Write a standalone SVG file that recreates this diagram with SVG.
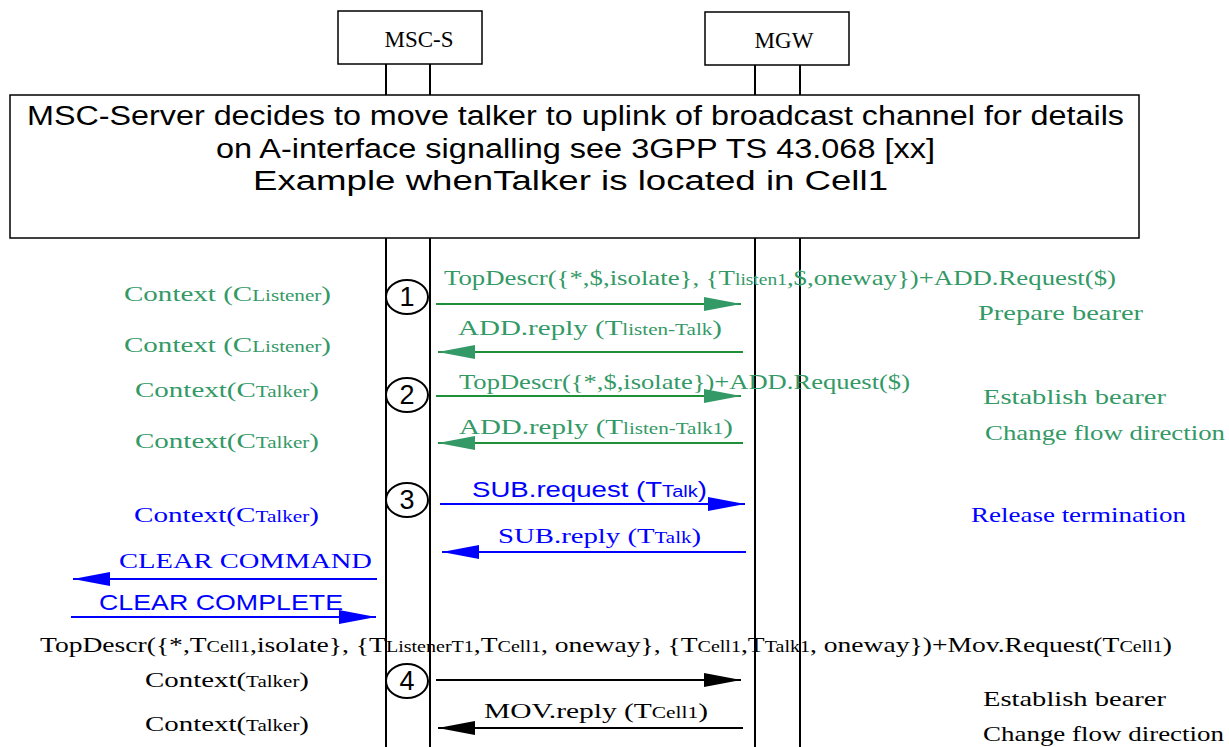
<svg xmlns="http://www.w3.org/2000/svg" width="1229" height="747" viewBox="0 0 1229 747">
<style>
.box{fill:#fff;stroke:#000;stroke-width:1.5}
.life{stroke:#000;stroke-width:2}
.serif{font-family:"Liberation Serif","Times New Roman",serif}
.sans{font-family:"Liberation Sans",Arial,sans-serif}
.g{fill:#339966}
.b{fill:#0000ff}
.k{fill:#000}
.m{font-size:22px}
.s{font-size:16px}
.gl{stroke:#1f8f3a;stroke-width:2;fill:none}
.bl{stroke:#0000ff;stroke-width:2;fill:none}
.kl{stroke:#000;stroke-width:2;fill:none}
.num{font-family:"Liberation Sans",Arial,sans-serif;font-size:27px;text-anchor:middle}
</style>
<defs>
<marker id="ag" markerUnits="userSpaceOnUse" markerWidth="40" markerHeight="16" refX="37" refY="7" orient="auto"><path d="M0,0 L37,7 L0,14 Z" fill="#339966"/></marker>
<marker id="ab" markerUnits="userSpaceOnUse" markerWidth="40" markerHeight="16" refX="37" refY="7" orient="auto"><path d="M0,0 L37,7 L0,14 Z" fill="#0000ff"/></marker>
<marker id="ak" markerUnits="userSpaceOnUse" markerWidth="40" markerHeight="16" refX="37" refY="7" orient="auto"><path d="M0,0 L37,7 L0,14 Z" fill="#000"/></marker>
</defs>
<rect width="1229" height="747" fill="#fff"/>
<g id="lifelines">
<line class="life" x1="386" y1="64" x2="386" y2="747"/>
<line class="life" x1="430" y1="64" x2="430" y2="747"/>
<line class="life" x1="755" y1="65" x2="755" y2="747"/>
<line class="life" x1="800" y1="65" x2="800" y2="747"/>
</g>
<g id="msc-s">
<rect class="box" x="338" y="11" width="144" height="53"/>
<text class="serif k" x="419" y="47" font-size="23" text-anchor="middle">MSC-S</text>
</g>
<g id="mgw">
<rect class="box" x="705" y="12" width="144" height="53"/>
<text class="serif k" x="784" y="48" font-size="23" text-anchor="middle">MGW</text>
</g>
<g id="note">
<rect class="box" x="10" y="95" width="1129" height="143"/>
<text class="sans k" font-size="27" x="27" y="125" textLength="1097" lengthAdjust="spacingAndGlyphs">MSC-Server decides to move talker to uplink of broadcast channel for details</text>
<text class="sans k" font-size="27" x="216" y="158" textLength="719" lengthAdjust="spacingAndGlyphs">on A-interface signalling see 3GPP TS 43.068 [xx]</text>
<text class="sans k" font-size="27" x="253" y="190" textLength="635" lengthAdjust="spacingAndGlyphs">Example whenTalker is located in Cell1</text>
</g>
<g id="step1"><ellipse cx="407" cy="297" rx="21" ry="17" fill="#fff" stroke="#000" stroke-width="2"/><text class="num" x="407" y="306">1</text></g>
<g id="step2"><ellipse cx="407" cy="395" rx="21" ry="17" fill="#fff" stroke="#000" stroke-width="2"/><text class="num" x="407" y="404">2</text></g>
<g id="step3"><ellipse cx="407" cy="500" rx="21" ry="17" fill="#fff" stroke="#000" stroke-width="2"/><text class="num" x="407" y="509">3</text></g>
<g id="step4"><ellipse cx="407" cy="681" rx="21" ry="17" fill="#fff" stroke="#000" stroke-width="2"/><text class="num" x="407" y="690">4</text></g>
<g id="connectors">
<line class="gl" x1="436" y1="304" x2="741" y2="304" marker-end="url(#ag)"/>
<line class="gl" x1="743" y1="352" x2="438" y2="352" marker-end="url(#ag)"/>
<line class="gl" x1="436" y1="396" x2="741" y2="396" marker-end="url(#ag)"/>
<line class="gl" x1="743" y1="443" x2="438" y2="443" marker-end="url(#ag)"/>
<line class="bl" x1="440" y1="504" x2="745" y2="504" marker-end="url(#ab)"/>
<line class="bl" x1="746" y1="552" x2="442" y2="552" marker-end="url(#ab)"/>
<line class="bl" x1="377" y1="579" x2="73" y2="579" marker-end="url(#ab)"/>
<line class="bl" x1="71" y1="617" x2="376" y2="617" marker-end="url(#ab)"/>
<line class="kl" x1="436" y1="680" x2="741" y2="680" marker-end="url(#ak)"/>
<line class="kl" x1="743" y1="728" x2="438" y2="728" marker-end="url(#ak)"/>
</g>
<g id="labels">
<text class="serif g m" x="124" y="301" textLength="207" lengthAdjust="spacingAndGlyphs">Context (C<tspan class="s">Listener</tspan>)</text>
<text class="serif g m" x="124" y="352" textLength="207" lengthAdjust="spacingAndGlyphs">Context (C<tspan class="s">Listener</tspan>)</text>
<text class="serif g m" x="135" y="397" textLength="184" lengthAdjust="spacingAndGlyphs">Context(C<tspan class="s">Talker</tspan>)</text>
<text class="serif g m" x="135" y="448" textLength="184" lengthAdjust="spacingAndGlyphs">Context(C<tspan class="s">Talker</tspan>)</text>
<text class="serif g m" x="444" y="285" textLength="672" lengthAdjust="spacingAndGlyphs">TopDescr({*,$,isolate}, {T<tspan class="s">listen1</tspan>,$,oneway})+ADD.Request($)</text>
<text class="serif g m" x="978" y="320" textLength="165" lengthAdjust="spacingAndGlyphs">Prepare bearer</text>
<text class="serif g m" x="458" y="335" textLength="264" lengthAdjust="spacingAndGlyphs">ADD.reply (T<tspan class="s">listen-Talk</tspan>)</text>
<text class="serif g m" x="459" y="389" textLength="451" lengthAdjust="spacingAndGlyphs">TopDescr({*,$,isolate})+ADD.Request($)</text>
<text class="serif g m" x="983" y="404" textLength="183" lengthAdjust="spacingAndGlyphs">Establish bearer</text>
<text class="serif g m" x="459" y="434" textLength="274" lengthAdjust="spacingAndGlyphs">ADD.reply (T<tspan class="s">listen-Talk1</tspan>)</text>
<text class="serif g m" x="985" y="440" textLength="240" lengthAdjust="spacingAndGlyphs">Change flow direction</text>
<text class="sans b m" x="472" y="497" textLength="235" lengthAdjust="spacingAndGlyphs">SUB.request (T<tspan class="s">Talk</tspan>)</text>
<text class="serif b m" x="498" y="543" textLength="203" lengthAdjust="spacingAndGlyphs">SUB.reply (T<tspan class="s">Talk</tspan>)</text>
<text class="serif b m" x="134" y="522" textLength="185" lengthAdjust="spacingAndGlyphs">Context(C<tspan class="s">Talker</tspan>)</text>
<text class="serif b m" x="971" y="522" textLength="215" lengthAdjust="spacingAndGlyphs">Release termination</text>
<text class="serif b m" x="119" y="568" textLength="253" lengthAdjust="spacingAndGlyphs">CLEAR COMMAND</text>
<text class="sans b m" x="99" y="610" textLength="244" lengthAdjust="spacingAndGlyphs">CLEAR COMPLETE</text>
<text class="serif k m" x="40" y="652" textLength="1132" lengthAdjust="spacingAndGlyphs">TopDescr({*,T<tspan class="s">Cell1</tspan>,isolate}, {T<tspan class="s">ListenerT1</tspan>,T<tspan class="s">Cell1</tspan>, oneway}, {T<tspan class="s">Cell1</tspan>,T<tspan class="s">Talk1</tspan>,  oneway})+Mov.Request(T<tspan class="s">Cell1</tspan>)</text>
<text class="serif k m" x="145" y="687" textLength="164" lengthAdjust="spacingAndGlyphs">Context(<tspan class="s">Talker</tspan>)</text>
<text class="serif k m" x="145" y="731" textLength="164" lengthAdjust="spacingAndGlyphs">Context(<tspan class="s">Talker</tspan>)</text>
<text class="serif k m" x="484" y="718" textLength="224" lengthAdjust="spacingAndGlyphs">MOV.reply (T<tspan class="s">Cell1</tspan>)</text>
<text class="serif k m" x="983" y="706" textLength="183" lengthAdjust="spacingAndGlyphs">Establish bearer</text>
<text class="serif k m" x="983" y="741" textLength="241" lengthAdjust="spacingAndGlyphs">Change flow direction</text>
</g>
</svg>
